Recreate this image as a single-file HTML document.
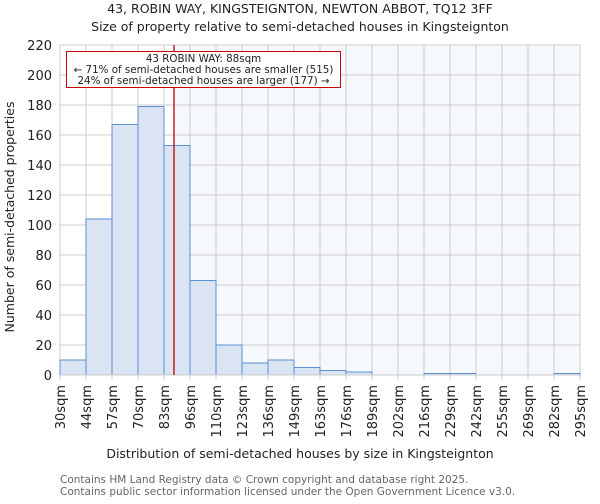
<!DOCTYPE html>
<html><head><meta charset="utf-8"><style>
body{margin:0;background:#fff;font-family:"DejaVu Sans","Liberation Sans",sans-serif}
svg text{font-family:"DejaVu Sans","Liberation Sans",sans-serif}
</style></head><body>
<svg id="chart" width="600" height="500" viewBox="0 0 600 500">
<text x="300" y="13" text-anchor="middle" font-size="12.5" fill="#222">43, ROBIN WAY, KINGSTEIGNTON, NEWTON ABBOT, TQ12 3FF</text>
<text x="300" y="31" text-anchor="middle" font-size="12.5" fill="#222">Size of property relative to semi-detached houses in Kingsteignton</text>
<g id="plot"></g>
<text x="300" y="458" text-anchor="middle" font-size="12.5" fill="#222">Distribution of semi-detached houses by size in Kingsteignton</text>
<text transform="translate(14,217) rotate(-90)" text-anchor="middle" font-size="12.5" fill="#222">Number of semi-detached properties</text>
<text x="60" y="483" font-size="10.5" fill="#666">Contains HM Land Registry data © Crown copyright and database right 2025.</text>
<text x="60" y="495" font-size="10.5" fill="#666">Contains public sector information licensed under the Open Government Licence v3.0.</text>
</svg>
<script>
const binLabels=["30sqm","44sqm","57sqm","70sqm","83sqm","96sqm","110sqm","123sqm","136sqm","149sqm","163sqm","176sqm","189sqm","202sqm","216sqm","229sqm","242sqm","255sqm","269sqm","282sqm","295sqm"];
const binEdges=[30,44,57,70,83,96,110,123,136,149,163,176,189,202,216,229,242,255,269,282,295];
const counts=[10,104,167,179,153,63,20,8,10,5,3,2,0,0,1,1,0,0,0,1];
const yTicks=[0,20,40,60,80,100,120,140,160,180,200,220];
const propertySize=88;
const annotLines=["43 ROBIN WAY: 88sqm","← 71% of semi-detached houses are smaller (515)","24% of semi-detached houses are larger (177) →"];

const NS="http://www.w3.org/2000/svg";
const g=document.getElementById('plot');
const L=60,R=580,T=45,B=375,yMax=220;
const nB=counts.length;
const xi=i=>L+(R-L)*i/nB;
const y=v=>B-(B-T)*v/yMax;
function xv(v){for(let i=0;i<nB;i++){if(v<=binEdges[i+1])return xi(i)+(v-binEdges[i])/(binEdges[i+1]-binEdges[i])*(xi(i+1)-xi(i));}return R;}
function mk(t,a){const e=document.createElementNS(NS,t);for(const k in a)e.setAttribute(k,a[k]);g.appendChild(e);return e;}
const px=xv(propertySize);
let e=mk('rect',{x:L,y:T,width:px-L,height:B-T,fill:'#ffffff'});


e=mk('rect',{x:px,y:T,width:R-px,height:B-T,fill:'#f5f8fd'});


for(const t of yTicks){
 e=mk('line',{x1:L,x2:R,y1:y(t),y2:y(t),stroke:'#cccccc','stroke-width':1});
 
 
 e=mk('text',{x:L-8,y:y(t)+5,'text-anchor':'end','font-size':13,fill:'#222'});
 e.textContent=t;
 
 
}
for(let i=0;i<=nB;i++){
 e=mk('line',{x1:xi(i),x2:xi(i),y1:T,y2:B+5,stroke:'#cccccc','stroke-width':1});
 
 
 e=mk('text',{transform:`translate(${xi(i)+5},${B+10}) rotate(-90)`,'text-anchor':'end','font-size':13,fill:'#222'});
 e.textContent=binLabels[i];
 
 
}
for(let i=0;i<nB;i++){
 e=mk('rect',{x:xi(i),y:y(counts[i]),width:xi(i+1)-xi(i),height:B-y(counts[i]),fill:'#dae4f3',stroke:'#5b8fd6','stroke-width':1});
 
 
}
e=mk('line',{x1:L,x2:R,y1:B,y2:B,stroke:'#cccccc'});


e=mk('line',{x1:px,x2:px,y1:T,y2:B,stroke:'#bb0000','stroke-width':1.3});


e=mk('rect',{x:66.5,y:51.5,width:274,height:36,fill:'#fff',stroke:'#cc0000','stroke-width':1});


annotLines.forEach((s,k)=>{
 e=mk('text',{x:203.5,y:62+k*11,'text-anchor':'middle','font-size':10.3,fill:'#222'});
 e.textContent=s;
 
 
});
</script>
</body></html>
